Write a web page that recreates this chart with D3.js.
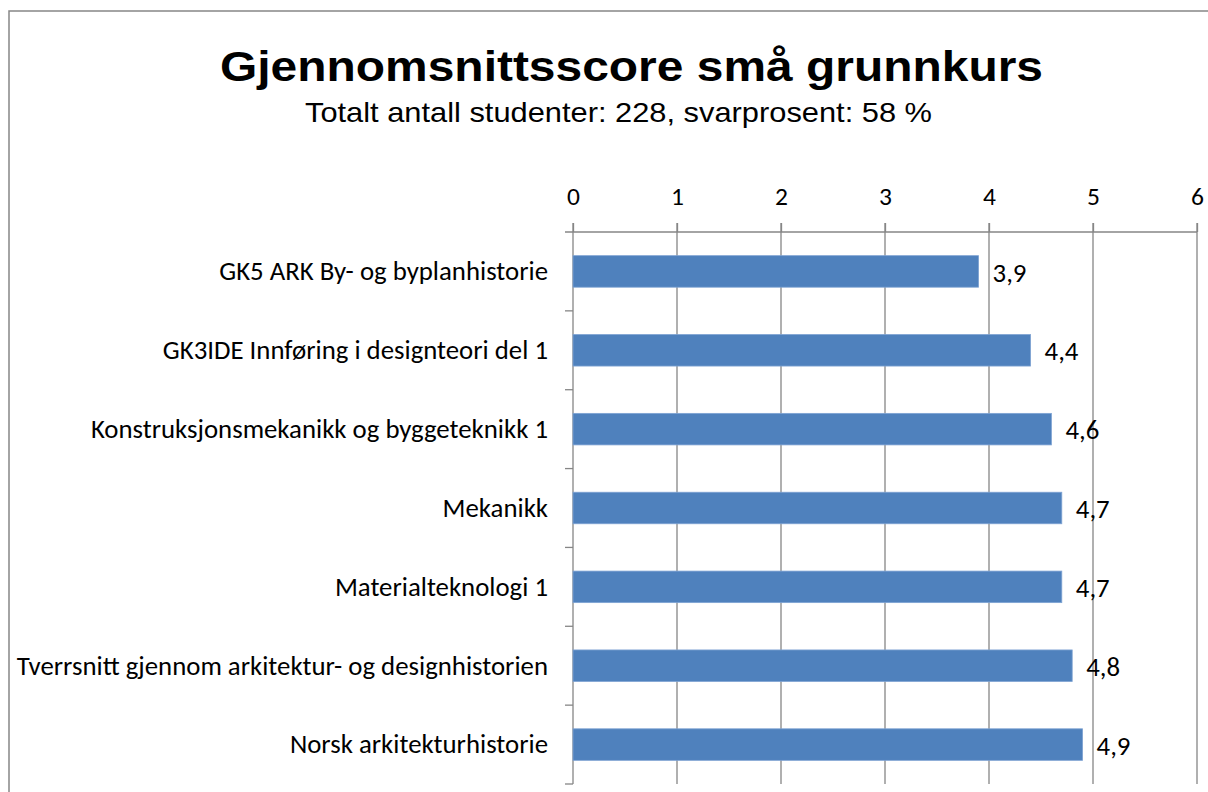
<!DOCTYPE html>
<html lang="en">
<head>
<meta charset="utf-8">
<title>Gjennomsnittsscore små grunnkurs</title>
<style>
    body { margin: 0; background: #fff; }
    .title { font: bold 43px "Liberation Sans", Arial, sans-serif; }
    .subtitle { font: 28px "Liberation Sans", Arial, sans-serif; }
    .cat, .value { font-family: Carlito, Calibri, Lato, sans-serif; font-size: 26.8px; fill: #000; }
</style>
<script src="https://cdn.jsdelivr.net/npm/d3@7"></script>
</head>
<body>
<svg width="1208" height="792"></svg>
<script>
    const titleText = "Gjennomsnittsscore små grunnkurs";
    const subtitleText = "Totalt antall studenter: 228, svarprosent: 58 %";

    const courses = [
        "GK5 ARK By- og byplanhistorie",
        "GK3IDE Innføring i designteori del 1",
        "Konstruksjonsmekanikk og byggeteknikk 1",
        "Mekanikk",
        "Materialteknologi 1",
        "Tverrsnitt gjennom arkitektur- og designhistorien",
        "Norsk arkitekturhistorie"
    ];
    const scores = [3.9, 4.4, 4.6, 4.7, 4.7, 4.8, 4.9];
    const xTicks = [0, 1, 2, 3, 4, 5, 6];

    const grey = "#868686";

    let svg = d3.select("svg");

    // outer chart frame, runs off the right and bottom edge
    svg.append("rect")
        .attr("x", 9).attr("y", 11)
        .attr("width", 1230).attr("height", 820)
        .attr("fill", "none")
        .attr("stroke", grey)
        .attr("stroke-width", 1.5);

    // the original is a bit stretched sideways, so the headings are too
    svg.append("text").attr("class", "title")
        .attr("x", 220).attr("y", 81)
        .attr("textLength", 823)
        .attr("lengthAdjust", "spacingAndGlyphs")
        .text(titleText);

    svg.append("text").attr("class", "subtitle")
        .attr("x", 305).attr("y", 122)
        .attr("textLength", 627)
        .attr("lengthAdjust", "spacingAndGlyphs")
        .text(subtitleText);

    let x = d3.scaleLinear().domain([0, 6]).range([573, 1197]);
    let y = d3.scaleBand().domain(courses).range([232, 784]).paddingInner(0.6).paddingOuter(0.3);
    let yFull = d3.scaleBand().domain(courses).range([232, 784]);

    // vertical gridlines
    svg.append("g").selectAll("line")
        .data(xTicks.slice(1))
        .join("line")
        .attr("x1", d => x(d)).attr("x2", d => x(d))
        .attr("y1", 223).attr("y2", 784)
        .attr("stroke", grey).attr("stroke-width", 1.3);

    // top axis
    let axisTop = svg.append("g")
        .attr("transform", "translate(0,232)")
        .call(d3.axisTop(x).tickValues(xTicks).tickSize(9).tickPadding(18).tickFormat(d3.format("d")));
    axisTop.select(".domain").attr("stroke", grey).attr("stroke-width", 1.3).attr("d", "M565,0H1197");
    axisTop.selectAll(".tick line").attr("stroke", grey).attr("stroke-width", 1.3);
    axisTop.selectAll(".tick text")
        .attr("fill", "#000")
        .style("font-family", "Carlito, Calibri, Lato, sans-serif")
        .style("font-size", "25.5px");

    // left axis with ticks between categories
    let yAxis = svg.append("g");
    yAxis.append("line")
        .attr("x1", 573).attr("x2", 573)
        .attr("y1", 223).attr("y2", 784)
        .attr("stroke", grey).attr("stroke-width", 1.3);
    yAxis.selectAll("line.sep")
        .data(courses)
        .join("line").attr("class", "sep")
        .attr("x1", 565).attr("x2", 573)
        .attr("y1", d => yFull(d) + yFull.bandwidth())
        .attr("y2", d => yFull(d) + yFull.bandwidth())
        .attr("stroke", grey).attr("stroke-width", 1.3);

    // bars
    svg.append("g").selectAll("rect")
        .data(courses)
        .join("rect")
        .attr("x", x(0))
        .attr("y", d => y(d))
        .attr("width", (d, i) => x(scores[i]) - x(0))
        .attr("height", y.bandwidth())
        .attr("fill", "#4F81BD")
        .attr("stroke", "#7fa3d3")
        .attr("stroke-width", 0.8);

    // category labels
    svg.append("g").selectAll("text")
        .data(courses)
        .join("text").attr("class", "cat")
        .attr("x", 548)
        .attr("y", d => yFull(d) + yFull.bandwidth() / 2)
        .attr("dy", "0.33em")
        .attr("text-anchor", "end")
        .text(d => d);

    // value labels
    svg.append("g").selectAll("text")
        .data(courses)
        .join("text").attr("class", "value")
        .attr("x", (d, i) => x(scores[i]) + 14)
        .attr("y", d => yFull(d) + yFull.bandwidth() / 2)
        .attr("dy", "0.38em")
        .text((d, i) => String(scores[i]).replace(".", ","));
</script>
</body>
</html>
